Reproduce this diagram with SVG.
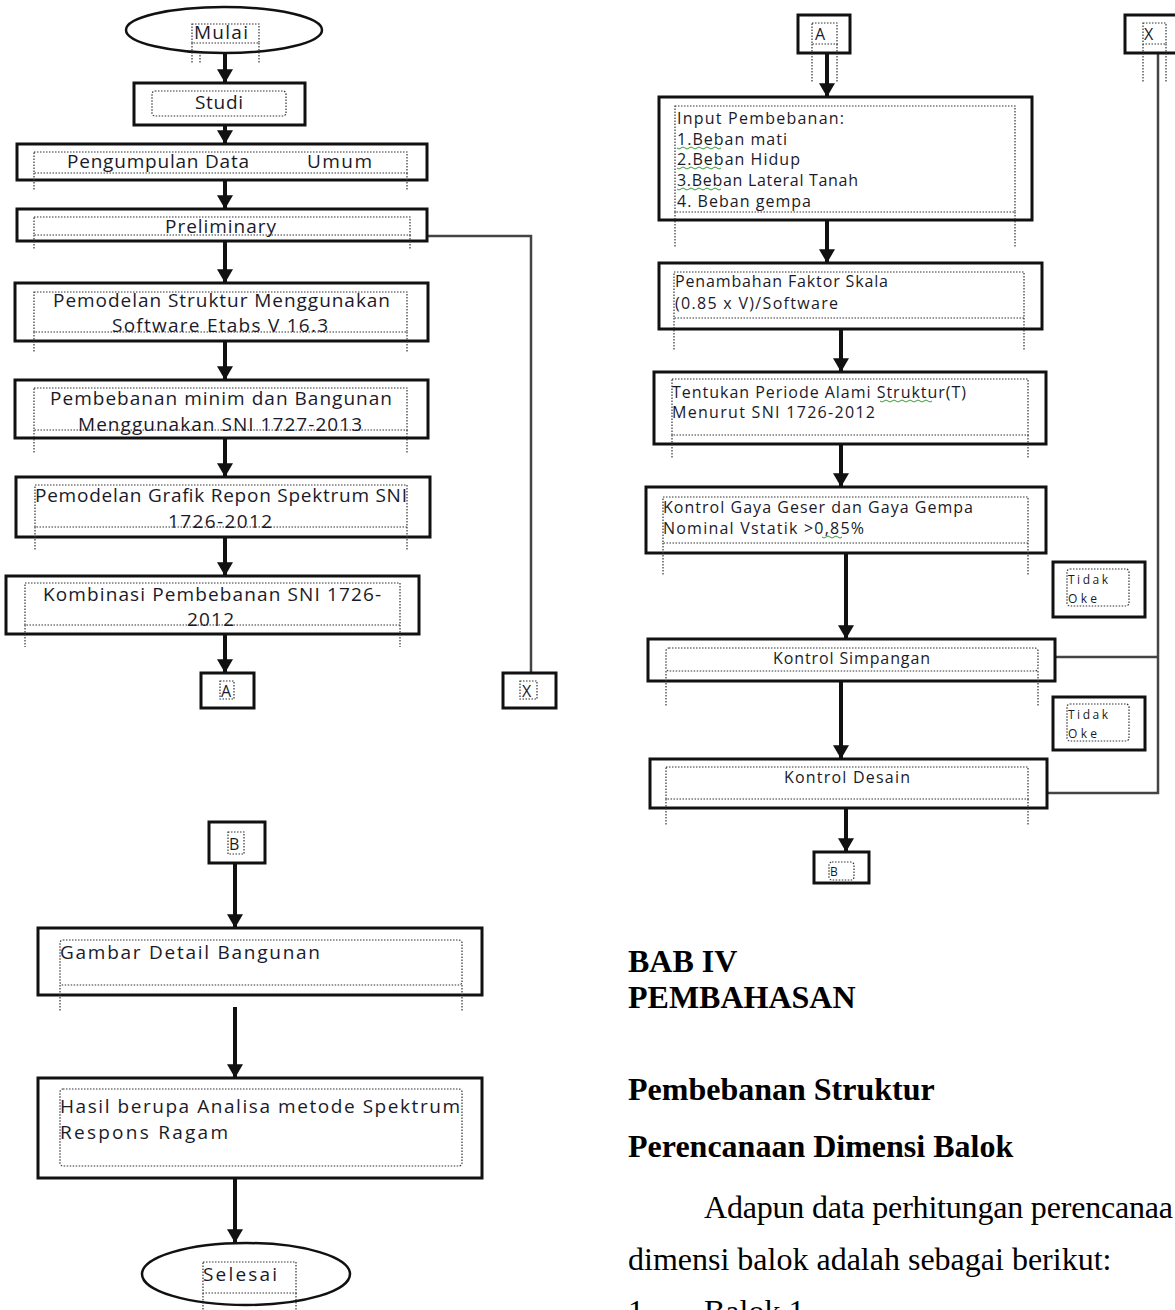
<svg xmlns="http://www.w3.org/2000/svg" width="1175" height="1310" viewBox="0 0 1175 1310">
<style>
.box{fill:#fff;stroke:#111;stroke-width:3}
.term{fill:#fff;stroke:#111;stroke-width:2.5}
.dot{fill:none;stroke:#333;stroke-width:1.2;stroke-dasharray:1.5 1.5}
.arr{stroke:#111;stroke-width:4;fill:none}
.ln{stroke:#444;stroke-width:2.5;fill:none}
.t{font-family:"Open Sans","Noto Sans","Liberation Sans",sans-serif;fill:#1a1a2a}
.l{font-size:19px}
.r{font-size:16px}
.s{font-size:12px}
.sq{fill:none;stroke:#3a9a3a;stroke-width:1}
.h{font-family:"Liberation Serif","Times New Roman",serif;font-size:32px;fill:#000}
.hb{font-weight:bold}
</style>
<defs>
<marker id="ah" viewBox="0 0 12 14" refX="12" refY="7" markerWidth="14" markerHeight="16" markerUnits="userSpaceOnUse" orient="auto">
<path d="M0,0 L12,7 L0,14 z" fill="#111"/>
</marker>
</defs>

<g id="connectors">
<line class="arr" x1="225" y1="53" x2="225" y2="83" marker-end="url(#ah)"/>
<line class="arr" x1="225" y1="125" x2="225" y2="144" marker-end="url(#ah)"/>
<line class="arr" x1="225" y1="180" x2="225" y2="209" marker-end="url(#ah)"/>
<line class="arr" x1="225" y1="241" x2="225" y2="283" marker-end="url(#ah)"/>
<line class="arr" x1="225" y1="341" x2="225" y2="380" marker-end="url(#ah)"/>
<line class="arr" x1="225" y1="438" x2="225" y2="477" marker-end="url(#ah)"/>
<line class="arr" x1="225" y1="537" x2="225" y2="576" marker-end="url(#ah)"/>
<line class="arr" x1="225" y1="634" x2="225" y2="673" marker-end="url(#ah)"/>
<polyline class="ln" points="428,236 531,236 531,673"/>
<line class="arr" x1="235" y1="863" x2="235" y2="928" marker-end="url(#ah)"/>
<line class="arr" x1="235" y1="1007" x2="235" y2="1078" marker-end="url(#ah)"/>
<line class="arr" x1="235" y1="1178" x2="235" y2="1243" marker-end="url(#ah)"/>
<line class="arr" x1="827" y1="53" x2="827" y2="97" marker-end="url(#ah)"/>
<line class="arr" x1="827" y1="220" x2="827" y2="263" marker-end="url(#ah)"/>
<line class="arr" x1="841" y1="329" x2="841" y2="372" marker-end="url(#ah)"/>
<line class="arr" x1="841" y1="444" x2="841" y2="487" marker-end="url(#ah)"/>
<line class="arr" x1="846" y1="553" x2="846" y2="639" marker-end="url(#ah)"/>
<line class="arr" x1="841" y1="681" x2="841" y2="759" marker-end="url(#ah)"/>
<line class="arr" x1="846" y1="808" x2="846" y2="852" marker-end="url(#ah)"/>
<polyline class="ln" points="1158,53 1158,793 1047,793"/>
<line class="ln" x1="1055" y1="657" x2="1158" y2="657"/>
</g>

<g id="mulai">
<ellipse class="term" cx="224" cy="30" rx="98" ry="23"/>
<rect class="dot" x="192" y="24" width="67" height="19"/>
<path class="dot" d="M192,43 V63 M200,52 V63 M259,43 V63"/>
<text class="t l" x="194" y="39" textLength="54">Mulai</text>
</g>

<g id="studi">
<rect class="box" x="134" y="83" width="171" height="42"/>
<rect class="dot" x="152" y="91" width="134" height="25" rx="3"/>
<text class="t l" x="195" y="109" textLength="48">Studi</text>
</g>

<g id="pengumpulan">
<rect class="box" x="17" y="144" width="410" height="36"/>
<rect class="dot" x="34" y="152" width="373" height="21"/>
<path class="dot" d="M34,173 V190 M407,173 V190"/>
<text class="t l" x="67" y="168" textLength="182">Pengumpulan Data</text>
<text class="t l" x="307" y="168" textLength="65">Umum</text>
</g>

<g id="preliminary">
<rect class="box" x="17" y="209" width="410" height="32"/>
<rect class="dot" x="34" y="217" width="376" height="18"/>
<path class="dot" d="M34,235 V250 M410,235 V250"/>
<text class="t l" x="165" y="233" textLength="111">Preliminary</text>
</g>

<g id="pemodelan-struktur">
<rect class="box" x="15" y="283" width="413" height="58"/>
<rect class="dot" x="34" y="292" width="373" height="40"/>
<path class="dot" d="M34,332 V352 M407,332 V352"/>
<text class="t l" x="53" y="307" textLength="337">Pemodelan Struktur Menggunakan</text>
<text class="t l" x="112" y="332" textLength="216">Software Etabs V 16.3</text>
</g>

<g id="pembebanan-minim">
<rect class="box" x="15" y="380" width="413" height="58"/>
<rect class="dot" x="34" y="388" width="373" height="42"/>
<path class="dot" d="M34,430 V453 M407,430 V453"/>
<text class="t l" x="50" y="405" textLength="342">Pembebanan minim dan Bangunan</text>
<text class="t l" x="78" y="431" textLength="284">Menggunakan SNI 1727-2013</text>
</g>

<g id="pemodelan-grafik">
<rect class="box" x="16" y="477" width="414" height="60"/>
<rect class="dot" x="35" y="485" width="372" height="42"/>
<path class="dot" d="M35,527 V550 M407,527 V550"/>
<text class="t l" x="35" y="502" textLength="372">Pemodelan Grafik Repon Spektrum SNI</text>
<text class="t l" x="168" y="528" textLength="104">1726-2012</text>
</g>

<g id="kombinasi">
<rect class="box" x="6" y="576" width="413" height="58"/>
<rect class="dot" x="25" y="583" width="375" height="42"/>
<path class="dot" d="M25,625 V647 M400,625 V647"/>
<text class="t l" x="43" y="601" textLength="338">Kombinasi Pembebanan SNI 1726-</text>
<text class="t l" x="187" y="626" textLength="47">2012</text>
</g>

<g id="conn-a-left">
<rect class="box" x="201" y="673" width="53" height="35"/>
<rect class="dot" x="220" y="681" width="14" height="18"/>
<text class="t r" x="221" y="697">A</text>
</g>

<g id="conn-x-left">
<rect class="box" x="503" y="673" width="53" height="35"/>
<rect class="dot" x="520" y="681" width="17" height="18"/>
<text class="t r" x="522" y="697">X</text>
</g>

<g id="conn-b-left">
<rect class="box" x="209" y="822" width="56" height="41"/>
<rect class="dot" x="228" y="832" width="16" height="22"/>
<text class="t r" x="229" y="850">B</text>
</g>

<g id="gambar">
<rect class="box" x="38" y="928" width="444" height="67"/>
<rect class="dot" x="60" y="940" width="402" height="45" rx="3"/>
<path class="dot" d="M60,985 V1012 M462,985 V1012"/>
<text class="t l" x="60" y="959" textLength="260">Gambar Detail Bangunan</text>
</g>

<g id="hasil">
<rect class="box" x="38" y="1078" width="444" height="100"/>
<rect class="dot" x="60" y="1089" width="402" height="77" rx="3"/>
<text class="t l" x="60" y="1113" textLength="400">Hasil berupa Analisa metode Spektrum</text>
<text class="t l" x="60" y="1139" textLength="168">Respons Ragam</text>
</g>

<g id="selesai">
<ellipse class="term" cx="246" cy="1274" rx="104" ry="31"/>
<rect class="dot" x="203" y="1262" width="93" height="31"/>
<path class="dot" d="M203,1293 V1312 M296,1293 V1312"/>
<text class="t l" x="203" y="1281" textLength="74">Selesai</text>
</g>

<g id="conn-a-right">
<rect class="box" x="798" y="15" width="52" height="38"/>
<rect class="dot" x="812" y="23" width="25" height="21"/>
<path class="dot" d="M812,44 V82 M837,44 V82"/>
<text class="t r" x="815" y="40">A</text>
</g>

<g id="conn-x-right">
<rect class="box" x="1125" y="15" width="60" height="38"/>
<rect class="dot" x="1143" y="23" width="23" height="21"/>
<path class="dot" d="M1143,44 V82 M1166,44 V82"/>
<text class="t r" x="1144" y="40">X</text>
</g>

<g id="input">
<rect class="box" x="659" y="97" width="373" height="123"/>
<rect class="dot" x="675" y="106" width="340" height="106"/>
<path class="dot" d="M675,212 V248 M1015,212 V248"/>
<text class="t r" x="677" y="124" textLength="167">Input Pembebanan:</text>
<text class="t r" x="677" y="145" textLength="110">1.Beban mati</text>
<text class="t r" x="677" y="165" textLength="123">2.Beban Hidup</text>
<text class="t r" x="677" y="186" textLength="181">3.Beban Lateral Tanah</text>
<text class="t r" x="677" y="207" textLength="134">4. Beban gempa</text>
<path class="sq" d="M677,148 q2,2 4,0 t4,0 t4,0 t4,0 t4,0 t4,0 t4,0 t4,0 t4,0 t4,0 t4,0 M677,168 q2,2 4,0 t4,0 t4,0 t4,0 t4,0 t4,0 t4,0 t4,0 t4,0 t4,0 t4,0 M677,189 q2,2 4,0 t4,0 t4,0 t4,0 t4,0 t4,0 t4,0 t4,0 t4,0 t4,0 t4,0"/>
</g>

<g id="penambahan">
<rect class="box" x="659" y="263" width="383" height="66"/>
<rect class="dot" x="674" y="272" width="350" height="46"/>
<path class="dot" d="M674,318 V350 M1024,318 V350"/>
<text class="t r" x="675" y="287" textLength="213">Penambahan Faktor Skala</text>
<text class="t r" x="675" y="309" textLength="163">(0.85 x V)/Software</text>
</g>

<g id="tentukan">
<rect class="box" x="654" y="372" width="392" height="72"/>
<rect class="dot" x="672" y="379" width="356" height="56"/>
<path class="dot" d="M672,435 V458 M1028,435 V458"/>
<text class="t r" x="672" y="398" textLength="294">Tentukan Periode Alami Struktur(T)</text>
<text class="t r" x="672" y="418" textLength="203">Menurut SNI 1726-2012</text>
<path class="sq" d="M880,401 q2,2 4,0 t4,0 t4,0 t4,0 t4,0 t4,0 t4,0 t4,0 t4,0 t4,0 t4,0 t4,0 t4,0"/>
</g>

<g id="kontrol-gaya">
<rect class="box" x="646" y="487" width="400" height="66"/>
<rect class="dot" x="663" y="497" width="365" height="46"/>
<path class="dot" d="M663,543 V575 M1028,543 V575"/>
<text class="t r" x="663" y="513" textLength="310">Kontrol Gaya Geser dan Gaya Gempa</text>
<text class="t r" x="663" y="534" textLength="201">Nominal Vstatik &gt;0,85%</text>
<path class="sq" d="M822,537 q2,2 4,0 t4,0 t4,0 t4,0 t4,0"/>
</g>

<g id="tidak-oke-1">
<rect class="box" x="1053" y="562" width="92" height="55"/>
<rect class="dot" x="1067" y="569" width="62" height="37" rx="3"/>
<text class="t s" x="1068" y="584" textLength="40">Tidak</text>
<text class="t s" x="1068" y="603" textLength="29">Oke</text>
</g>

<g id="kontrol-simpangan">
<rect class="box" x="648" y="639" width="407" height="42"/>
<rect class="dot" x="666" y="648" width="372" height="23" rx="3"/>
<path class="dot" d="M666,671 V707 M1038,671 V707"/>
<text class="t r" x="773" y="664" textLength="157">Kontrol Simpangan</text>
</g>

<g id="tidak-oke-2">
<rect class="box" x="1053" y="697" width="92" height="53"/>
<rect class="dot" x="1067" y="704" width="62" height="37" rx="3"/>
<text class="t s" x="1068" y="719" textLength="40">Tidak</text>
<text class="t s" x="1068" y="738" textLength="29">Oke</text>
</g>

<g id="kontrol-desain">
<rect class="box" x="650" y="759" width="397" height="49"/>
<rect class="dot" x="666" y="767" width="362" height="32"/>
<path class="dot" d="M666,799 V825 M1028,799 V825"/>
<text class="t r" x="784" y="783" textLength="126">Kontrol Desain</text>
</g>

<g id="conn-b-right">
<rect class="box" x="814" y="852" width="55" height="31"/>
<rect class="dot" x="829" y="862" width="25" height="18" rx="3"/>
<text class="t s" x="830" y="876">B</text>
</g>

<g id="body-text">
<text class="h hb" x="628" y="972">BAB IV</text>
<text class="h hb" x="628" y="1008">PEMBAHASAN</text>
<text class="h hb" x="628" y="1100">Pembebanan Struktur</text>
<text class="h hb" x="628" y="1157">Perencanaan Dimensi Balok</text>
<text class="h" x="704" y="1218" textLength="469">Adapun data perhitungan perencanaa</text>
<text class="h" x="628" y="1270">dimensi balok adalah sebagai berikut:</text>
<text class="h" x="628" y="1322">1.</text>
<text class="h" x="704" y="1322">Balok 1</text>
</g>
</svg>
